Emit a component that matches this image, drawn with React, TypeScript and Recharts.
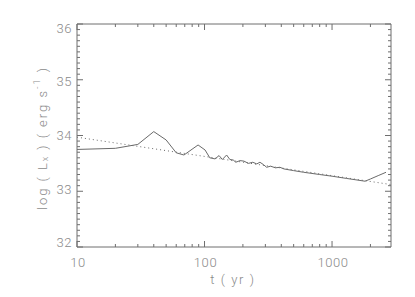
import { LineChart, Line, XAxis, YAxis, Label } from "recharts";

// solid curve: log Lx vs t (yr)
const solidT = [
  10, 20, 30, 40, 50, 60, 69, 89, 101, 110, 121, 130, 138, 149, 158, 168, 176,
  190, 204, 221, 239, 257, 272, 289, 307, 330, 360, 390, 420, 500, 600, 800,
  1000, 1300, 1815, 2000, 2300, 2650,
];
const solidLogL = [
  33.75, 33.77, 33.84, 34.07, 33.92, 33.69, 33.65, 33.83, 33.74, 33.6, 33.58,
  33.64, 33.57, 33.65, 33.57, 33.56, 33.52, 33.55, 33.54, 33.5, 33.52, 33.49,
  33.52, 33.48, 33.43, 33.45, 33.42, 33.43, 33.4, 33.37, 33.34, 33.3, 33.27,
  33.23, 33.18, 33.22, 33.28, 33.34,
];

// dotted power-law fit
const fitT = [10, 2900];
const fitLogL = [33.97, 33.12];

const xMajorTicks = [10, 100, 1000];
const xMinorTicks = [20, 30, 40, 50, 60, 70, 80, 90, 200, 300, 400, 500, 600, 700, 800, 900, 2000];
const yMajorTicks = [32, 33, 34, 35, 36];

const X_DOMAIN: [number, number] = [10, 2900];
const Y_DOMAIN: [number, number] = [32, 36];

const AXIS = "#6e6e6e";
const LINE = "#6a6a6a";
const TEXT = "#8a8a8a";
const FONT = "Roboto, 'Liberation Sans', Arial, sans-serif";
const WEIGHT = 300;

const solidData = solidT.map((t, i) => ({ t, v: solidLogL[i] }));
const fitData = fitT.map((t, i) => ({ t, v: fitLogL[i] }));

const xTicks = [...xMajorTicks, ...xMinorTicks].sort((a, b) => a - b);
const yTicks: number[] = [];
for (let i = 0; i <= 40; i++) yTicks.push(Math.round((32 + i / 10) * 10) / 10);

const isMajorX = (v: number) => xMajorTicks.includes(v);
const isMajorY = (v: number) => yMajorTicks.includes(v);

const PLOT_MID_Y = 135.5;

function BottomTick({ x, y, payload }: any) {
  const major = isMajorX(payload.value);
  return (
    <g>
      <line x1={x} x2={x} y1={y} y2={y - (major ? 6 : 3)} stroke={AXIS} />
      {major && (
        <text x={x + 1} y={y + 19.5} textAnchor="middle" fill={TEXT} fontSize={13} fontWeight={WEIGHT} fontFamily={FONT} letterSpacing={0.6}>
          {payload.value}
        </text>
      )}
    </g>
  );
}

function TopTick({ x, y, payload }: any) {
  const major = isMajorX(payload.value);
  return <line x1={x} x2={x} y1={y} y2={y + (major ? 6 : 3)} stroke={AXIS} />;
}

function LeftTick({ x, y, payload }: any) {
  const major = isMajorY(payload.value);
  const ly = PLOT_MID_Y + (y - PLOT_MID_Y) * 0.96;
  return (
    <g>
      <line x1={x} x2={x + (major ? 6 : 3)} y1={y} y2={y} stroke={AXIS} />
      {major && (
        <text x={x - 5} y={ly + 4.5} textAnchor="end" fill={TEXT} fontSize={13} fontWeight={WEIGHT} fontFamily={FONT} letterSpacing={0.6}>
          {payload.value}
        </text>
      )}
    </g>
  );
}

function RightTick({ x, y, payload }: any) {
  const major = isMajorY(payload.value);
  return <line x1={x} x2={x - (major ? 6 : 3)} y1={y} y2={y} stroke={AXIS} />;
}

function YTitle() {
  const cy = 138;
  return (
    <text
      x={42}
      y={cy}
      transform={`rotate(-90 42 ${cy})`}
      textAnchor="middle"
      dominantBaseline="central"
      fill={TEXT}
      fontSize={13}
      fontWeight={WEIGHT}
      fontFamily={FONT}
      letterSpacing={2}
    >
      log ( L
      <tspan fontSize={9} dy={3}>x</tspan>
      <tspan dy={-3}> ) ( erg s</tspan>
      <tspan fontSize={9} dy={-5}>-1</tspan>
      <tspan dy={5}> )</tspan>
    </text>
  );
}

function XTitle() {
  return (
    <text x={233} y={284} textAnchor="middle" fill={TEXT} fontSize={13} fontWeight={WEIGHT} fontFamily={FONT} letterSpacing={1.6}>
      t ( yr )
    </text>
  );
}

export default function App() {
  return (
    <div style={{ position: "absolute", left: 0, top: 0, width: 415, height: 297, background: "#fff" }}>
      <LineChart width={415} height={297} margin={{ top: 23, right: 23, bottom: 19, left: 37 }}>
        <XAxis
          dataKey="t"
          type="number"
          scale="log"
          domain={X_DOMAIN}
          allowDataOverflow
          ticks={xTicks}
          interval={0}
          tickSize={0}
          tickMargin={0}
          height={31}
          axisLine={{ stroke: AXIS }}
          tick={<BottomTick />}
        >
          <Label content={<XTitle />} />
        </XAxis>
        <XAxis
          xAxisId="top"
          orientation="top"
          dataKey="t"
          type="number"
          scale="log"
          domain={X_DOMAIN}
          allowDataOverflow
          ticks={xTicks}
          interval={0}
          tickSize={0}
          tickMargin={0}
          height={1}
          axisLine={{ stroke: AXIS }}
          tick={<TopTick />}
        />
        <YAxis
          type="number"
          domain={Y_DOMAIN}
          allowDataOverflow
          ticks={yTicks}
          interval={0}
          tickSize={0}
          tickMargin={0}
          width={40}
          axisLine={{ stroke: AXIS }}
          tick={<LeftTick />}
        >
          <Label content={<YTitle />} />
        </YAxis>
        <YAxis
          yAxisId="right"
          orientation="right"
          type="number"
          domain={Y_DOMAIN}
          allowDataOverflow
          ticks={yTicks}
          interval={0}
          tickSize={0}
          tickMargin={0}
          width={1}
          axisLine={{ stroke: AXIS }}
          tick={<RightTick />}
        />
        <Line
          data={fitData}
          dataKey="v"
          type="linear"
          stroke={LINE}
          strokeWidth={1}
          strokeDasharray="1 3"
          dot={false}
          isAnimationActive={false}
        />
        <Line
          data={solidData}
          dataKey="v"
          type="linear"
          stroke={LINE}
          strokeWidth={1}
          dot={false}
          isAnimationActive={false}
        />
      </LineChart>
    </div>
  );
}
